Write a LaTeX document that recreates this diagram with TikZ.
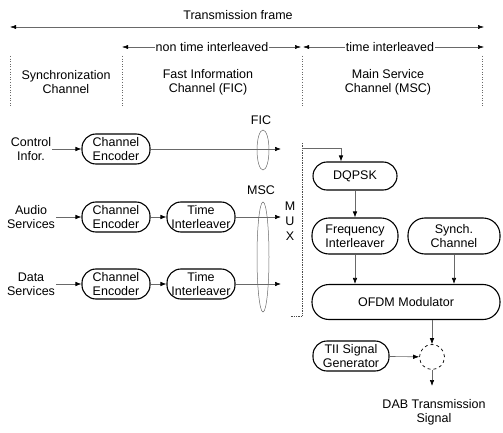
\documentclass[tikz,border=0pt]{standalone}
\usepackage{fontspec}
\setmainfont{Liberation Sans}
\usepackage{tikz}
\usetikzlibrary{arrows.meta,calc,positioning,shapes.misc}
\tikzset{
  blk/.style = {rectangle, draw, black, line width=1.1pt, align=center, inner sep=1pt, text centered},
  blk_n/.style = {blk, rounded corners=14pt, minimum width=68pt, minimum height=30pt},
  blk_w/.style = {blk, rounded corners=17pt, minimum width=86pt, minimum height=36pt},
  txt/.style = {align=center, inner sep=1pt}
}
\definecolor{line_grey}{RGB}{105,105,105}

\begin{document}
\begin{tikzpicture}[x=1pt, y=-1pt, font=\fontsize{12.5}{14}\selectfont,
        conn/.style={line_grey, line width=0.6pt, -{Latex[length=6pt,width=4.5pt,color=black]}},
        dim/.style={line_grey, line width=0.5pt, {Latex[length=6pt,width=4pt,color=black]}-{Latex[length=6pt,width=4pt,color=black]}},
        sep/.style={line_grey, line width=0.6pt, dotted},
        grp/.style={line_grey, line width=0.5pt},
        mux_ln/.style={black!70, line width=0.7pt, densely dotted},
        sum_node/.style={circle, draw, dashed, line width=0.7pt, minimum size=25pt, inner sep=0pt}]
    \useasboundingbox (0,0) rectangle (503,433);

    % frame header
    \node[txt] (hdr_frame) at (238,15) {Transmission frame};
    \coordinate (fr_l) at (10,27);
    \coordinate (fr_r) at (484,27);
    \coordinate (nt_l) at (122,47);
    \coordinate (nt_r) at (301,47);
    \coordinate (ti_l) at (303,47);
    \coordinate (ti_r) at (484,47);
    \draw[dim] (fr_l) -- (fr_r);
    \draw[dim] (nt_l) -- (nt_r);
    \draw[dim] (ti_l) -- (ti_r);
    \node[txt, fill=white] (hdr_nti) at (212,47) {non time interleaved};
    \node[txt, fill=white] (hdr_ti) at (390,47) {time interleaved};
    \foreach \x in {10,122,302,482}
        \draw[sep] (\x,56) -- (\x,106);
    \node[txt] (sec_sync) at (66,82) {Synchronization\\Channel};
    \node[txt] (sec_fic) at (208,82) {Fast Information\\Channel (FIC)};
    \node[txt] (sec_msc) at (388,82) {Main Service\\Channel (MSC)};

    % inputs
    \node[txt] (in_ctrl) at (31,149) {Control\\Infor.};
    \node[txt] (in_audio) at (31,217) {Audio\\Services};
    \node[txt] (in_data) at (31,284) {Data\\Services};
    \node[blk_n] (ce_ctrl) at (116,149) {Channel\\Encoder};
    \node[blk_n] (ce_audio) at (116,217) {Channel\\Encoder};
    \node[blk_n] (ti_audio) at (201,217) {Time\\Interleaver};
    \node[blk_n] (ce_data) at (116,284) {Channel\\Encoder};
    \node[blk_n] (ti_data) at (201,284) {Time\\Interleaver};
    \coordinate (mx_fic) at (281,149);
    \coordinate (mx_aud) at (281,217);
    \coordinate (mx_dat) at (281,284);
    \draw[conn] (in_ctrl) -- (ce_ctrl);
    \draw[conn] (in_audio) -- (ce_audio);
    \draw[conn] (in_data) -- (ce_data);
    \draw[conn] (ce_audio) -- (ti_audio);
    \draw[conn] (ce_data) -- (ti_data);
    \draw[conn] (ce_ctrl) -- (mx_fic);
    \draw[conn] (ti_audio) -- (mx_aud);
    \draw[conn] (ti_data) -- (mx_dat);

    % FIC / MSC groups
    \node[txt] (lbl_fic) at (261,120) {FIC};
    \node[txt] (lbl_msc) at (261,190) {MSC};
    \draw[grp] (263,150) ellipse [x radius=6pt, y radius=20pt];
    \draw[grp] (263,257) ellipse [x radius=6pt, y radius=55pt];

    % multiplexer
    \coordinate (mux_top) at (302,143);
    \coordinate (mux_bot) at (302,316);
    \coordinate (mux_end) at (290,316);
    \coordinate (mux_out) at (302,148);
    \draw[mux_ln] (mux_top) -- (mux_bot) -- (mux_end);
    \node[txt] (mux_lbl) at (290,221) {M\\[1pt]U\\[1pt]X};

    % transmitter chain
    \node[blk, rounded corners=14pt, minimum width=84pt, minimum height=28pt] (dqpsk) at (355,176) {DQPSK};
    \node[blk_w] (fi) at (355,236) {Frequency\\Interleaver};
    \node[blk_w, minimum width=92pt] (sc) at (454,236) {Synch.\\Channel};
    \node[blk, rounded corners=17pt, minimum width=188pt, minimum height=35pt] (ofdm) at (406,302) {OFDM Modulator};
    \node[blk_n, minimum width=76pt] (tii) at (351,356) {TII Signal\\Generator};
    \node[sum_node] (sum) at (432,357) {};
    \coordinate (out) at (432,386);
    \node[txt] (dab) at (434,412) {DAB Transmission\\Signal};

    \draw[conn] (mux_out) -| ([xshift=-14pt]dqpsk.north);
    \draw[conn] (dqpsk) -- (fi);
    \draw[conn] (fi) -- (fi |- ofdm.north);
    \draw[conn] (sc) -- (sc |- ofdm.north);
    \draw[conn] (sum |- ofdm.south) -- (sum);
    \draw[conn] (tii) -- (sum);
    \draw[conn] (sum) -- (out);
\end{tikzpicture}
\end{document}
